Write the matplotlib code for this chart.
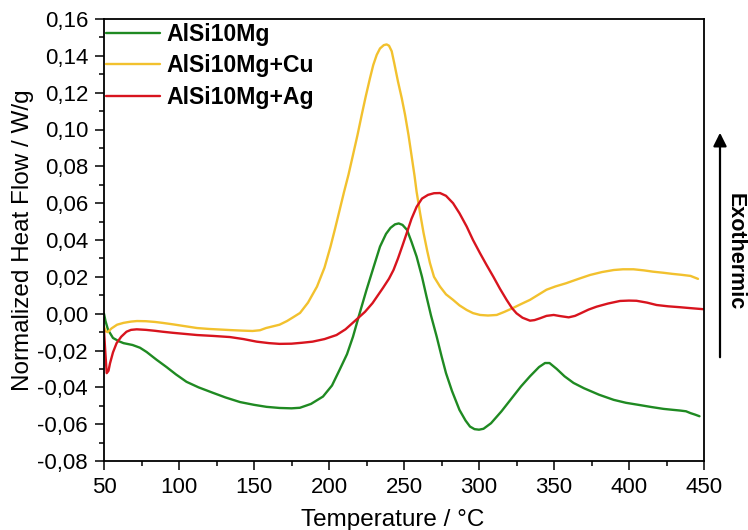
import matplotlib
matplotlib.use("Agg")
import matplotlib.pyplot as plt
from matplotlib.patches import FancyArrowPatch
from matplotlib.ticker import MultipleLocator, FuncFormatter

plt.rcParams["font.family"] = ["Liberation Sans", "DejaVu Sans"]

# DSC traces: temperature (°C) and normalized heat flow (W/g)
t_base = [50, 51, 52.7, 56, 60, 63, 69, 74, 78.4, 85, 91.7, 98, 105, 113, 122.7, 131,
          140.7, 150, 158.4, 167, 175, 180.6, 188, 196, 202, 207, 212, 216, 220, 225,
          230, 234, 238, 241, 244, 246.5, 249, 252, 255, 258.4, 262, 265, 268, 271.8,
          275, 278, 282, 287, 291, 294, 297, 300, 303, 308, 315, 322.7, 328, 334, 340,
          344, 347, 351.8, 357, 363, 370, 380, 389.8, 398, 407, 415, 423, 429, 434,
          438, 441, 444, 447]
hf_base = [0.000, -0.004, -0.0088, -0.0132, -0.015, -0.0160, -0.0170, -0.0185, -0.0208,
           -0.025, -0.029, -0.033, -0.037, -0.040, -0.043, -0.0455, -0.048, -0.0495,
           -0.0506, -0.0512, -0.0514, -0.0511, -0.0490, -0.045, -0.039, -0.0306, -0.022,
           -0.0125, -0.001, 0.0129, 0.026, 0.0364, 0.0433, 0.0466, 0.0485, 0.049, 0.0482,
           0.0455, 0.039, 0.031, 0.020, 0.0093, -0.001, -0.0125, -0.023, -0.0323, -0.042,
           -0.0523, -0.058, -0.0613, -0.0627, -0.063, -0.0625, -0.0595, -0.053, -0.045,
           -0.0395, -0.034, -0.029, -0.0268, -0.0268, -0.0300, -0.034, -0.0376, -0.0405,
           -0.0440, -0.0468, -0.0484, -0.0496, -0.0507, -0.0517, -0.0522, -0.0526,
           -0.0530, -0.054, -0.0548, -0.0557]

t_cu = [50, 51, 52.5, 55, 58.7, 63, 68, 72, 78, 84, 89, 96, 104, 112, 120, 127, 134,
        142, 149, 154, 158, 163, 167, 172, 176, 180.7, 186, 192, 197, 201, 204, 207,
        210, 213, 216, 219, 221.8, 224.5, 227.3, 229.5, 231.8, 234, 236.5, 238.4, 240,
        241.8, 243.5, 246, 248.5, 250.7, 253, 255, 257, 258.4, 260.7, 263, 265.5, 267.3,
        270, 274, 278, 282.7, 287, 291.8, 296, 300.7, 306, 311.8, 317, 322.7, 328, 334,
        340, 345, 351, 358, 366, 374, 382, 389.8, 396, 403, 410, 416, 423, 429, 435,
        441, 446]
hf_cu = [-0.007, -0.0095, -0.0100, -0.0080, -0.0060, -0.0050, -0.0043, -0.0040, -0.0041,
         -0.0045, -0.0050, -0.0058, -0.0068, -0.0078, -0.0083, -0.0086, -0.0089, -0.0092,
         -0.0094, -0.0090, -0.0078, -0.0068, -0.0060, -0.0040, -0.0020, 0.0004, 0.0060,
         0.0147, 0.025, 0.0364, 0.046, 0.056, 0.066, 0.0755, 0.0862, 0.097, 0.1079,
         0.118, 0.1278, 0.135, 0.1405, 0.1440, 0.1458, 0.1462, 0.1455, 0.1425, 0.136,
         0.126, 0.117, 0.108, 0.097, 0.086, 0.075, 0.0662, 0.0547, 0.044, 0.034, 0.0275,
         0.020, 0.0147, 0.0105, 0.0075, 0.0045, 0.002, 0.0003, -0.0007, -0.0010, -0.0007,
         0.0010, 0.0031, 0.0052, 0.0075, 0.0105, 0.013, 0.0148, 0.0165, 0.0188, 0.021,
         0.0226, 0.0237, 0.0241, 0.0241, 0.0235, 0.0228, 0.0222, 0.0216, 0.0211, 0.0205,
         0.0189]

t_ag = [50, 50.8, 51.8, 53, 54, 56, 58.4, 61.5, 65, 68, 71.8, 78, 84, 89, 96, 104, 112,
        123, 134, 143, 151.8, 160, 167, 175, 182, 189, 197, 205, 211, 218, 224, 229, 236,
        240, 243, 246, 249, 251.8, 255, 258.4, 262, 266, 270, 274, 278, 282.7, 287,
        291.8, 296, 300.7, 305, 309.6, 314, 318.4, 322, 325, 329, 334, 337, 340.7, 345,
        349.8, 354, 359.8, 364, 367.8, 373, 378.4, 386, 394, 400, 405, 412, 418.4, 426,
        434, 441, 450]
hf_ag = [-0.009, -0.020, -0.0323, -0.0310, -0.027, -0.021, -0.016, -0.0125, -0.0098,
         -0.0088, -0.0085, -0.0088, -0.0093, -0.0098, -0.0104, -0.0110, -0.0116, -0.0121,
         -0.0127, -0.0138, -0.0152, -0.0160, -0.0164, -0.0163, -0.0158, -0.0152, -0.0138,
         -0.0116, -0.0085, -0.0034, 0.0010, 0.0057, 0.0140, 0.0190, 0.0237, 0.030, 0.037,
         0.0437, 0.0515, 0.058, 0.0625, 0.0645, 0.0654, 0.0655, 0.0640, 0.0600, 0.0545,
         0.0473, 0.0400, 0.0328, 0.0265, 0.0200, 0.0135, 0.0075, 0.0030, 0.0002, -0.0022,
         -0.0038, -0.0035, -0.0025, -0.0012, -0.0007, -0.0013, -0.0020, -0.0012, 0.0002,
         0.0022, 0.0038, 0.0055, 0.0069, 0.0071, 0.0070, 0.0060, 0.0047, 0.0040, 0.0035,
         0.0030, 0.0024]

labels = ["AlSi10Mg", "AlSi10Mg+Cu", "AlSi10Mg+Ag"]
colors = ["#1f8a22", "#f2c12e", "#d8141e"]

fig = plt.figure(figsize=(7.48, 5.30), dpi=100)
ax = fig.add_axes([104 / 748, 1 - 461 / 530, 600 / 748, 442 / 530])

for (t, hf), lab, col in zip([(t_base, hf_base), (t_cu, hf_cu), (t_ag, hf_ag)], labels, colors):
    ax.plot(t, hf, color=col, lw=1.7, label=lab, solid_capstyle="round",
            solid_joinstyle="round")

ax.set_xlim(50, 450)
ax.set_ylim(-0.08, 0.16)
ax.xaxis.set_major_locator(MultipleLocator(50))
ax.xaxis.set_minor_locator(MultipleLocator(25))
ax.yaxis.set_major_locator(MultipleLocator(0.02))
ax.yaxis.set_minor_locator(MultipleLocator(0.01))
ax.yaxis.set_major_formatter(FuncFormatter(lambda v, _: f"{v:.2f}".replace(".", ",")))

ax.tick_params(which="major", direction="out", length=6.5, width=1.1, labelsize=16, pad=5)
ax.tick_params(which="minor", direction="out", length=3.5, width=1.1)
ax.tick_params(top=False, right=False, which="both")
for s in ax.spines.values():
    s.set_linewidth(1.3)

ax.set_xlabel("Temperature / °C", fontsize=17.5)
ax.set_ylabel("Normalized Heat Flow / W/g", fontsize=17.5)
ax.xaxis.set_label_coords(0.481, -0.108)
ax.yaxis.set_label_coords(-0.117, 0.5)

ax.legend(loc="upper left", bbox_to_anchor=(0.003, 0.991), frameon=False,
          borderaxespad=0, borderpad=0, handlelength=2.35, handletextpad=0.28,
          labelspacing=0.36, prop={"weight": "bold", "size": 16.6})

# Exothermic direction marker on the right
fig.patches.append(FancyArrowPatch(
    (720 / 748, 1 - 360 / 530), (720 / 748, 1 - 130 / 530), transform=fig.transFigure,
    arrowstyle="-|>", mutation_scale=20, lw=1.6, color="black"))
fig.text(735 / 748, 1 - 252 / 530, "Exothermic", rotation=270, fontsize=15.5,
         fontweight="bold", ha="center", va="center")

fig.savefig("out.png", dpi=100)
